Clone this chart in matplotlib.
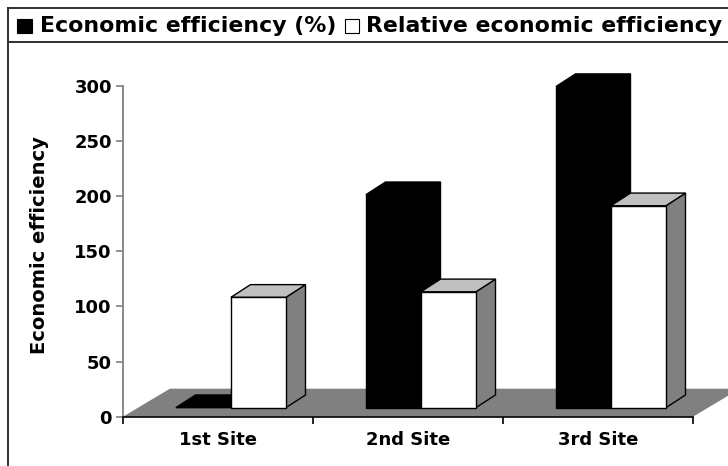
import matplotlib.pyplot as plt
from matplotlib.patches import Polygon, Rectangle
from matplotlib.lines import Line2D

sites = ['1st Site', '2nd Site', '3rd Site']
econ_eff = [0, 193, 291]        # Economic efficiency (%)
rel_eff = [100, 105, 183]       # Relative economic efficiency
series_names = ['Economic efficiency (%)', 'Relative economic efficiency']
yticks = [0, 50, 100, 150, 200, 250, 300]

W, H = 728, 466
fig = plt.figure(figsize=(W / 100, H / 100), dpi=100)
fig.patch.set_facecolor('white')

# axes placed in pixel terms: x 123..693, y(0)=416.7, y(300)=85.7
ax = fig.add_axes([123 / W, (H - 416.7) / H, 570 / W, 331 / H])
ax.set_xlim(0, 3)
ax.set_ylim(0, 300)
ax.patch.set_visible(False)

# oblique "3d" offsets in data units
floor_dx, floor_dy = 0.247, 25.4
front_dx, front_dy = 0.068, 8.2
depth_dx, depth_dy = 0.103, 11.5
bar_w = 0.2895

# floor
floor = Polygon([(0, 0), (3, 0), (3 + floor_dx, floor_dy), (floor_dx, floor_dy)],
                closed=True, facecolor='#808080', edgecolor='none', clip_on=False, zorder=1)
ax.add_patch(floor)


def bar3d(x0, val, front, top, side, edge):
    b = front_dy
    t = front_dy + val
    ax.add_patch(Polygon([(x0 + bar_w, b), (x0 + bar_w + depth_dx, b + depth_dy),
                          (x0 + bar_w + depth_dx, t + depth_dy), (x0 + bar_w, t)],
                         closed=True, facecolor=side, edgecolor=edge, lw=1,
                         clip_on=False, zorder=2))
    ax.add_patch(Polygon([(x0, t), (x0 + bar_w, t), (x0 + bar_w + depth_dx, t + depth_dy),
                          (x0 + depth_dx, t + depth_dy)],
                         closed=True, facecolor=top, edgecolor=edge, lw=1,
                         clip_on=False, zorder=2))
    if val > 0:
        ax.add_patch(Rectangle((x0, b), bar_w, val, facecolor=front, edgecolor=edge,
                               lw=1, clip_on=False, zorder=2))


for i in range(len(sites)):
    x_left = i + 0.5 - bar_w + front_dx
    bar3d(x_left, econ_eff[i], 'black', 'black', 'black', 'black')
    bar3d(x_left + bar_w, rel_eff[i], 'white', '#c0c0c0', '#808080', 'black')

# axes styling
for s in ['top', 'right']:
    ax.spines[s].set_visible(False)
ax.spines['left'].set_color('#808080')
ax.spines['left'].set_linewidth(1.3)
ax.spines['bottom'].set_color('black')
ax.spines['bottom'].set_linewidth(1.2)
ax.spines['bottom'].set_zorder(3)

ax.set_yticks(yticks)
ax.set_yticklabels([str(v) for v in yticks], fontsize=13, fontweight='bold',
                   family='DejaVu Sans')
ax.tick_params(axis='y', direction='out', length=5, width=1.2, color='#808080', pad=3)

ax.set_xticks([0, 1, 2, 3])
ax.set_xticklabels(['', '', '', ''])
ax.set_xticks([0.5, 1.5, 2.5], minor=True)
ax.set_xticklabels(sites, minor=True, fontsize=13, fontweight='bold', family='DejaVu Sans')
ax.tick_params(axis='x', which='major', direction='out', length=5, width=1.2, color='black')
ax.tick_params(axis='x', which='minor', length=0, pad=10)

fig.text(40 / W, 1 - 245 / H, 'Economic efficiency', rotation=90, fontsize=14,
         fontweight='bold', family='DejaVu Sans', ha='center', va='center')

# frame and legend strip
for xs, ys in [([7.5, W], [7.5, 7.5]), ([7.5, 7.5], [7.5, H]), ([7.5, W], [42, 42])]:
    fig.add_artist(Line2D([x / W for x in xs], [1 - y / H for y in ys],
                          transform=fig.transFigure, color='#303030', lw=1.4))

fig.add_artist(Rectangle((17 / W, 1 - 33 / H), 15 / W, 14 / H, transform=fig.transFigure,
                         facecolor='black', edgecolor='black', lw=0.8))
fig.text(40 / W, 1 - 25.5 / H, series_names[0], fontsize=15.8, fontweight='bold',
         family='DejaVu Sans', ha='left', va='center')
fig.add_artist(Rectangle((345 / W, 1 - 33 / H), 14 / W, 14 / H, transform=fig.transFigure,
                         facecolor='white', edgecolor='black', lw=0.8))
fig.text(366 / W, 1 - 25.5 / H, series_names[1], fontsize=15.8, fontweight='bold',
         family='DejaVu Sans', ha='left', va='center')

fig.savefig('out.png', dpi=100)
